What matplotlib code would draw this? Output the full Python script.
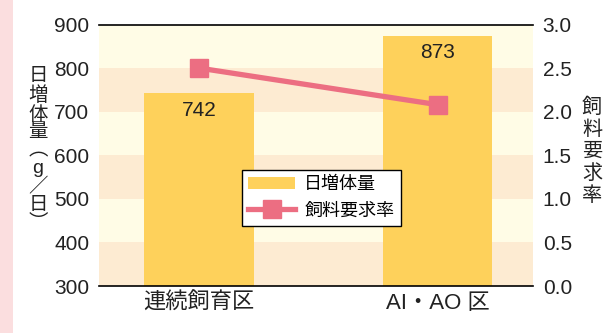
import matplotlib
matplotlib.use("Agg")
import matplotlib.pyplot as plt
from matplotlib.patches import Rectangle, Patch
from matplotlib.lines import Line2D

plt.rcParams['font.family'] = ['Liberation Sans', 'Noto Sans CJK JP', 'DejaVu Sans']

categories = ["連続飼育区", "AI・AO 区"]
gain = [742, 873]
feed_ratio = [2.5, 2.08]
left_ticks = [300, 400, 500, 600, 700, 800, 900]
right_ticks = [0.0, 0.5, 1.0, 1.5, 2.0, 2.5, 3.0]

bar_color = "#FED15B"
line_color = "#EC6E82"
band_light = "#FFFCE6"
band_dark = "#FDEBD2"

fig = plt.figure(figsize=(6.05, 3.33), dpi=100)
fig.patches.append(Rectangle((0, 0), 13 / 605, 1, transform=fig.transFigure,
                             facecolor="#FBDEDF", edgecolor="none", zorder=0))

ax = fig.add_axes([99 / 605, 1 - 286 / 333, 434 / 605, (286 - 24.5) / 333])
ax.set_ylim(300, 900)
ax.set_xlim(-0.42, 1.40)
for i, lo in enumerate(range(300, 900, 100)):
    ax.axhspan(lo, lo + 100, color=band_dark if i % 2 == 0 else band_light, zorder=0, lw=0)

x = list(range(len(categories)))
bars = ax.bar(x, gain, width=0.46, color=bar_color, zorder=2)
for xi, v in zip(x, gain):
    ax.annotate(str(v), (xi, v), xytext=(0, -12), textcoords="offset points",
                ha="center", va="center", fontsize=15, color="#222222", zorder=3)

ax.set_xticks(x)
ax.set_xticklabels(categories, fontsize=16)
ax.set_yticks(left_ticks)
ax.set_yticklabels([str(t) for t in left_ticks], fontsize=15)
ax.tick_params(length=0, pad=7, colors="#222222")
ax.tick_params(axis='x', pad=5)
for s in ["left", "right"]:
    ax.spines[s].set_visible(False)
for s in ["top", "bottom"]:
    ax.spines[s].set_color("black")
    ax.spines[s].set_linewidth(1.2)

ax2 = ax.twinx()
ax2.set_ylim(0, 3)
ax2.plot(x, feed_ratio, color=line_color, lw=3.8, marker="s", markersize=12.5, zorder=4)
ax2.set_yticks(right_ticks)
ax2.set_yticklabels([f"{t:.1f}" for t in right_ticks], fontsize=15)
ax2.tick_params(length=0, pad=7, colors="#222222")
for s in ["left", "right", "top", "bottom"]:
    ax2.spines[s].set_visible(False)

handles = [Patch(facecolor=bar_color, edgecolor="none"),
           Line2D([0], [0], color=line_color, lw=3.8, marker="s", markersize=12.5)]
leg = ax2.legend(handles, ["日増体量", "飼料要求率"], loc="upper left",
                 bbox_to_anchor=(242 / 605, 1 - 170 / 333), bbox_transform=fig.transFigure,
                 fontsize=13, frameon=True, fancybox=False, framealpha=1,
                 edgecolor="black", handlelength=2.6, handletextpad=0.5,
                 borderpad=0.35, labelspacing=0.5, borderaxespad=0)
leg.get_frame().set_linewidth(1.0)

fig.text(38 / 605, 1 - 150 / 333, "日\n増\n体\n量\n︵\ng\n／\n日\n︶", ha="center", va="center",
         fontsize=14, linespacing=1.06, color="#222222")
fig.text(592 / 605, 1 - 151 / 333, "飼\n料\n要\n求\n率", ha="center", va="center",
         fontsize=14.5, linespacing=1.2, color="#222222")

fig.savefig("out.png", dpi=100)
